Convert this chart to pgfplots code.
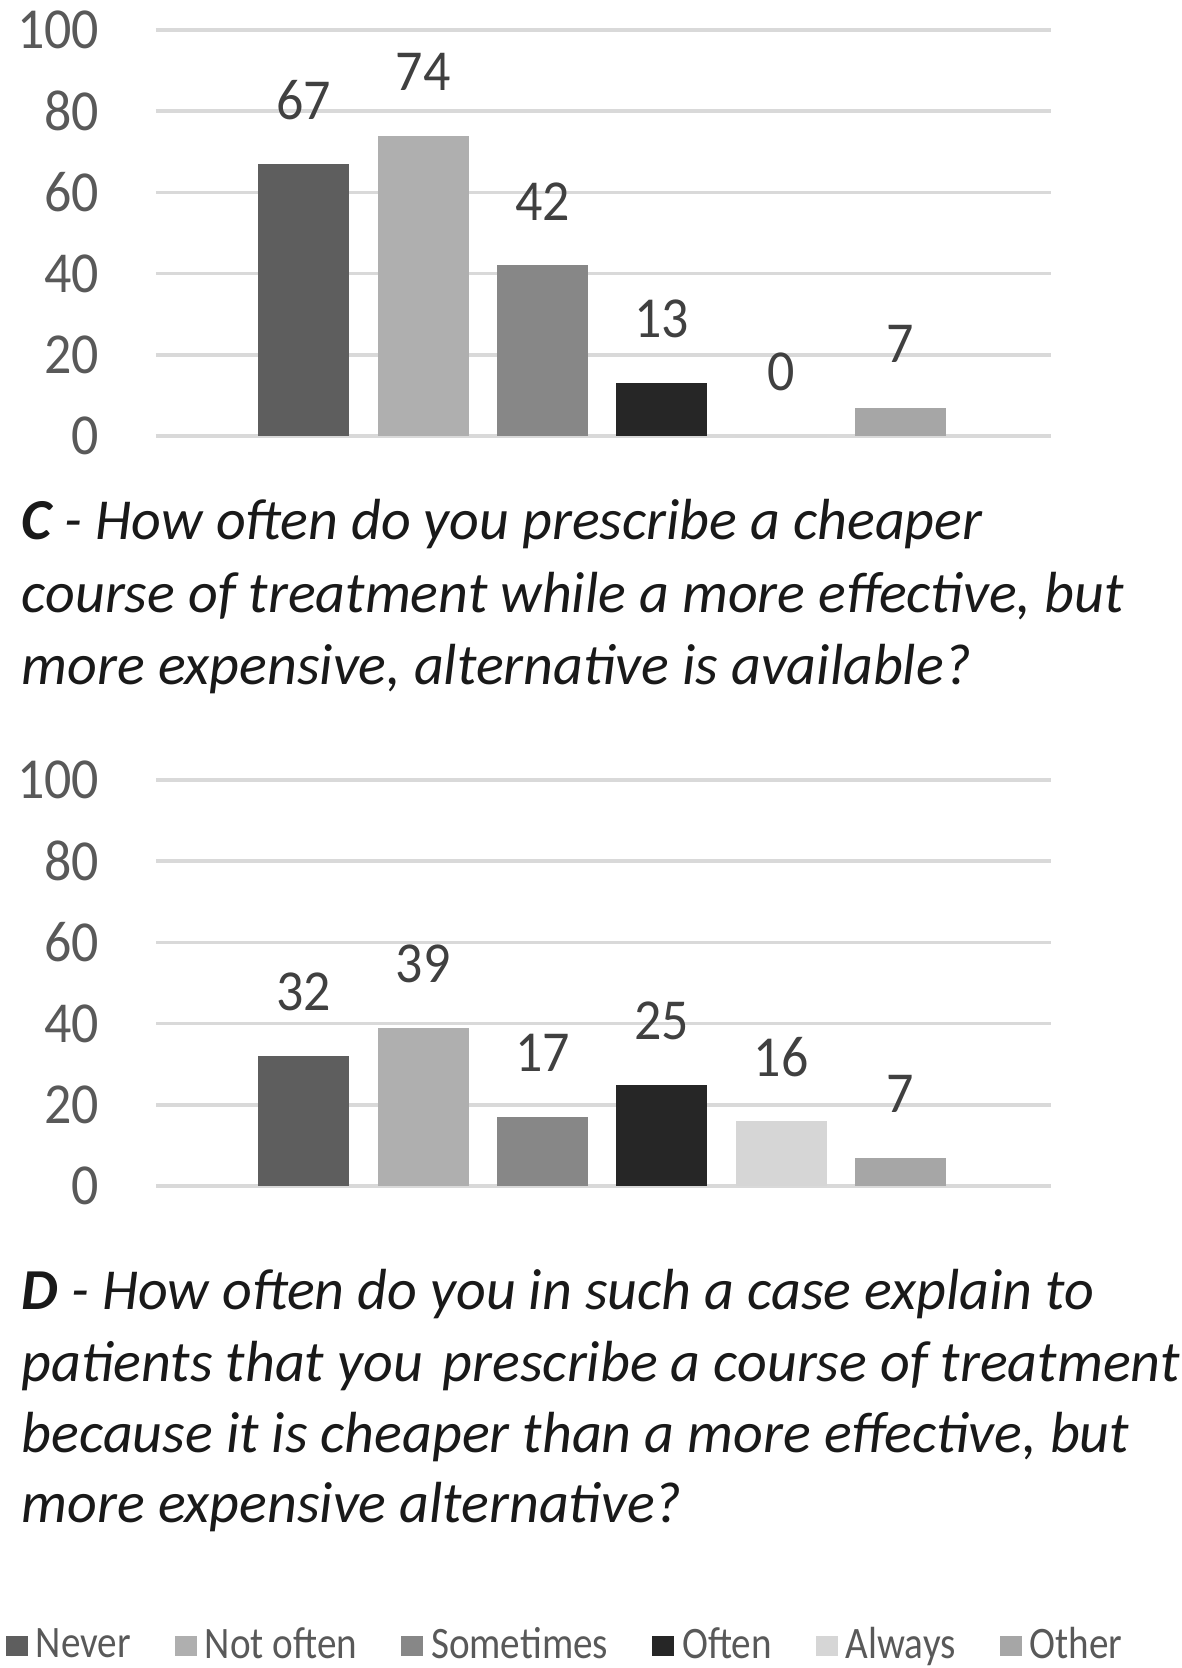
\documentclass[border=0pt]{standalone}
\usepackage{fontspec}
\setmainfont{Carlito}[FakeStretch=0.93]
\newfontfamily\legfam{Carlito}[FakeStretch=0.87]
\newfontfamily\titfam{Carlito}
\usepackage{pgfplots}
\pgfplotsset{compat=1.18}
\definecolor{cA}{HTML}{5E5E5E}
\definecolor{cB}{HTML}{AFAFAF}
\definecolor{cC}{HTML}{878787}
\definecolor{cD}{HTML}{262626}
\definecolor{cE}{HTML}{D6D6D6}
\definecolor{cF}{HTML}{A6A6A6}
\definecolor{gridc}{HTML}{D9D9D9}
\definecolor{tickc}{HTML}{595959}
\definecolor{valc}{HTML}{404040}
\newcommand\bigf{\fontsize{14.5}{17.5}\selectfont}
\newcommand\legf{\legfam\fontsize{11.25}{13.5}\selectfont}
\pgfplotsset{
  mybars/.style={
    scale only axis, width=223.75pt, height=101.5pt,
    xmin=-1.24, xmax=6.26, ymin=0, ymax=100,
    ytick={0,20,40,60,80,100}, xtick=\empty,
    ymajorgrids, grid style={draw=gridc, line width=0.9pt},
    axis line style={draw=none}, major tick length=0pt,
    /pgf/number format/assume math mode=true,
    yticklabel style={font=\bigf, text=tickc, anchor=east, inner sep=0pt, xshift=-14pt},
    nodes near coords,
    every node near coord/.append style={font=\bigf, text=valc, anchor=center, yshift=16pt},
    anchor=south west,
  },
  bb/.style={ybar, bar width=22.75pt, draw=none, fill=#1},
}
\begin{document}
\begin{tikzpicture}
\useasboundingbox (0,0) rectangle (295.25pt,-417pt);
\begin{axis}[mybars, at={(39pt,-109pt)}]
\addplot[bb=cA] coordinates {(0,67)};
\addplot[bb=cB] coordinates {(1,74)};
\addplot[bb=cC] coordinates {(2,42)};
\addplot[bb=cD] coordinates {(3,13)};
\addplot[bb=cE] coordinates {(4,0)};
\addplot[bb=cF] coordinates {(5,7)};
\end{axis}
\begin{axis}[mybars, at={(39pt,-296.5pt)},
  legend columns=6,
  legend style={at={(axis description cs:0,0)}, anchor=west, xshift=-37.75pt, yshift=-115pt,
    draw=none, fill=none, inner sep=0pt, font=\legf, text=tickc,
    /tikz/every even column/.append style={column sep=9pt}},
  legend image code/.code={\fill[#1,draw=none] (0pt,-2.5pt) rectangle (5.5pt,2.5pt);},
]
\addplot[bb=cA] coordinates {(0,32)};
\addplot[bb=cB] coordinates {(1,39)};
\addplot[bb=cC] coordinates {(2,17)};
\addplot[bb=cD] coordinates {(3,25)};
\addplot[bb=cE] coordinates {(4,16)};
\addplot[bb=cF] coordinates {(5,7)};
\legend{Never,Not often,Sometimes,Often,Always,Other}
\end{axis}
\begin{scope}[every node/.style={anchor=base west, inner sep=0pt, font=\titfam\bigf\itshape, text=black!90}]
\node at (5.25pt,-134.75pt) {\textbf{C} - How often do you prescribe a cheaper};
\node at (5.25pt,-153pt) {course of treatment while a more effective, but};
\node at (5.25pt,-171pt) {more expensive, alternative is available?};
\node at (5.25pt,-327.25pt) {\textbf{D} - How often do you in such a case explain to};
\node at (5.25pt,-345.25pt) {patients that you\hspace{0.12em} prescribe a course of treatment};
\node at (5.25pt,-363pt) {because it is cheaper than a more effective, but};
\node at (5.25pt,-380.5pt) {more expensive alternative?};
\end{scope}
\end{tikzpicture}
\end{document}
